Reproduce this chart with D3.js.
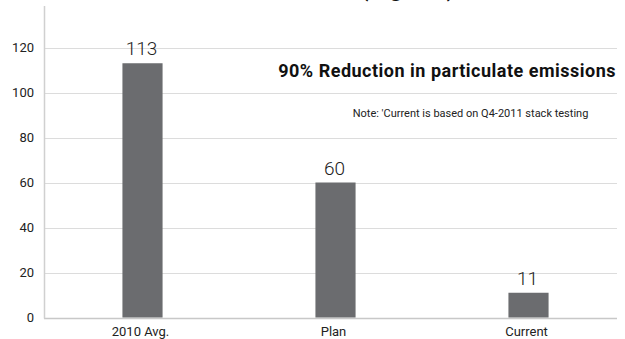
<!DOCTYPE html>
<html>
<head>
<meta charset="utf-8">
<script src="https://cdn.jsdelivr.net/npm/d3@7"></script>
<style>
  html, body { margin: 0; padding: 0; background: #fff; }
  svg { display: block; }
  text { font-family: Roboto, "Noto Sans", sans-serif; }
</style>
</head>
<body>
<svg id="chart" width="625" height="339"></svg>
<script>
// Particulate emissions, mg/m3
const categories = ["2010 Avg.", "Plan", "Current"];
const values = [113, 60, 11];
const yTicks = [0, 20, 40, 60, 80, 100, 120];

const svg = d3.select("#chart");
const plotLeft = 44, plotRight = 617, yTop = 47.5, yBottom = 317.5;

const x = d3.scaleBand()
  .domain(categories)
  .range([46, 625])
  .paddingInner(0.792)
  .paddingOuter(0.396);

const y = d3.scaleLinear().domain([0, 120]).range([yBottom, yTop]);

// Horizontal gridlines
svg.append("g")
  .selectAll("line")
  .data(yTicks)
  .join("line")
  .attr("x1", plotLeft).attr("x2", plotRight)
  .attr("y1", d => Math.round(y(d)) + 0.5).attr("y2", d => Math.round(y(d)) + 0.5)
  .attr("stroke", d => d === 0 ? "#c8c8c8" : "#dcdcdc")
  .attr("stroke-width", d => d === 0 ? 1.5 : 1);

// Vertical axis line
svg.append("line")
  .attr("x1", plotLeft + 0.5).attr("x2", plotLeft + 0.5)
  .attr("y1", 6).attr("y2", yBottom + 1)
  .attr("stroke", "#d0d0d0").attr("stroke-width", 1.5);

// Y axis labels
const yAxis = d3.axisLeft(y).tickValues(yTicks).tickSize(0).tickPadding(10);
const gy = svg.append("g").attr("transform", `translate(${plotLeft},0)`).call(yAxis);
gy.select(".domain").remove();
gy.selectAll("text")
  .attr("font-family", "Roboto, sans-serif")
  .attr("font-size", 13)
  .attr("fill", "#222");

// Bars
svg.append("g")
  .selectAll("rect")
  .data(values)
  .join("rect")
  .attr("x", (d, i) => x(categories[i]))
  .attr("width", x.bandwidth())
  .attr("y", d => y(d))
  .attr("height", d => yBottom - y(d))
  .attr("fill", "#6b6c6f");

// Value labels
svg.append("g")
  .selectAll("text")
  .data(values)
  .join("text")
  .attr("x", (d, i) => x(categories[i]) + x.bandwidth() / 2 - 1)
  .attr("y", d => y(d) - 8)
  .attr("text-anchor", "middle")
  .attr("font-size", 19)
  .attr("font-weight", 300)
  .attr("fill", "#222")
  .text(d => d);

// Category labels
svg.append("g")
  .selectAll("text")
  .data(categories)
  .join("text")
  .attr("x", d => x(d) + x.bandwidth() / 2 - 2)
  .attr("y", 336)
  .attr("text-anchor", "middle")
  .attr("font-size", 13)
  .attr("fill", "#222")
  .text(d => d);

// Title (runs off the top edge)
svg.append("text")
  .attr("x", 455).attr("y", -4)
  .attr("text-anchor", "end")
  .attr("font-size", 24)
  .attr("font-weight", "bold")
  .attr("fill", "#111")
  .text("Particulate Emissions (mg/m3)");

// Headline annotation
svg.append("text")
  .attr("x", 616).attr("y", 76.5)
  .attr("text-anchor", "end")
  .attr("font-size", 18)
  .attr("font-weight", "bold")
  .attr("letter-spacing", 0.5)
  .attr("fill", "#111")
  .text("90% Reduction in particulate emissions");

// Footnote
svg.append("text")
  .attr("x", 470.5).attr("y", 116.5)
  .attr("text-anchor", "middle")
  .attr("font-size", 11)
  .attr("fill", "#222")
  .text("Note: 'Current is based on Q4-2011 stack testing");
</script>
</body>
</html>
